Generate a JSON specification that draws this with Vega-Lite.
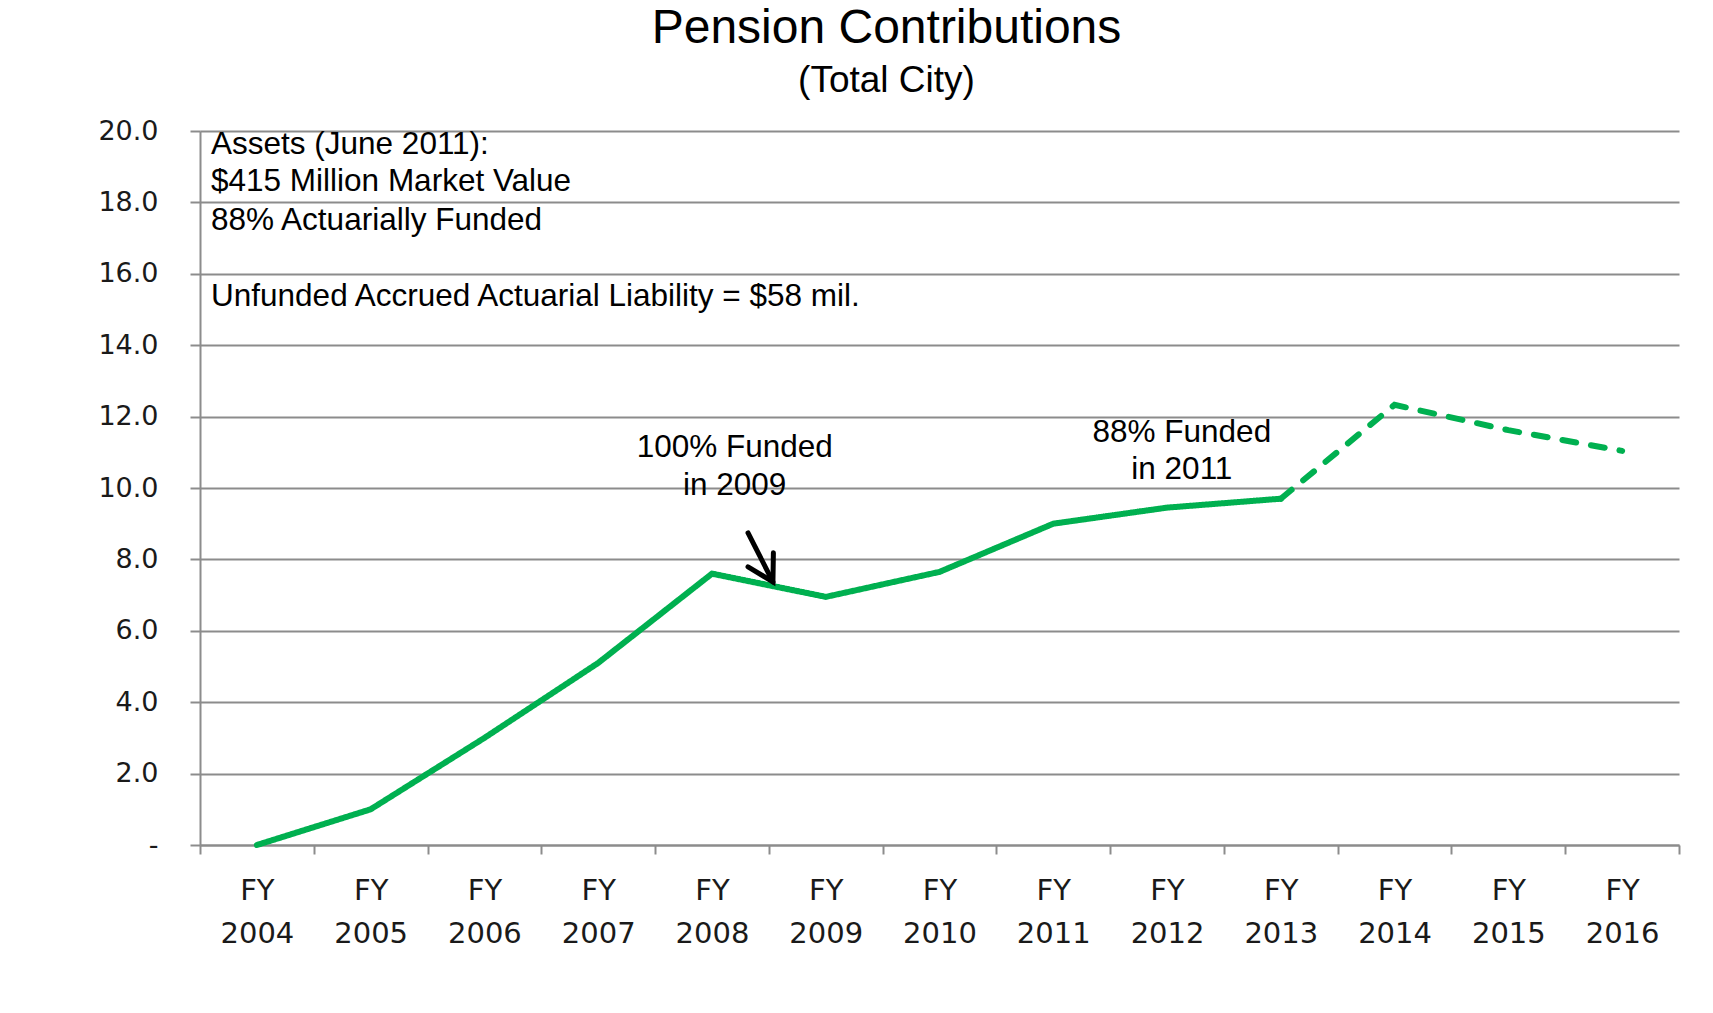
{
  "$schema": "https://vega.github.io/schema/vega-lite/v6.json",
  "width": 1479,
  "height": 714,
  "autosize": {"type": "none"},
  "padding": {"left": 200, "top": 131, "right": 34, "bottom": 168},
  "background": "white",
  "title": {
    "text": "Pension Contributions",
    "subtitle": "(Total City)",
    "anchor": "middle",
    "frame": "group",
    "dx": -53,
    "font": "Liberation Sans",
    "fontSize": 48,
    "fontWeight": "normal",
    "color": "black",
    "subtitleFont": "Liberation Sans",
    "subtitleFontSize": 37,
    "subtitleColor": "black",
    "subtitlePadding": 10,
    "offset": 18
  },
  "config": {"view": {"stroke": null}},
  "datasets": {
    "contrib": [
      {"year": "2004", "value": 0.0, "segment": "Actual"},
      {"year": "2005", "value": 1.0, "segment": "Actual"},
      {"year": "2006", "value": 3.0, "segment": "Actual"},
      {"year": "2007", "value": 5.1, "segment": "Actual"},
      {"year": "2008", "value": 7.6, "segment": "Actual"},
      {"year": "2009", "value": 6.95, "segment": "Actual"},
      {"year": "2010", "value": 7.65, "segment": "Actual"},
      {"year": "2011", "value": 9.0, "segment": "Actual"},
      {"year": "2012", "value": 9.45, "segment": "Actual"},
      {"year": "2013", "value": 9.7, "segment": "Actual"},
      {"year": "2013", "value": 9.7, "segment": "Projected"},
      {"year": "2014", "value": 12.33, "segment": "Projected"},
      {"year": "2015", "value": 11.62, "segment": "Projected"},
      {"year": "2016", "value": 11.04, "segment": "Projected"}
    ],
    "arrow": [
      {"x0": 4.817, "y0": 8.74, "x1": 5.036, "y1": 7.37}
    ],
    "notes": [
      {"label": "Assets (June 2011):", "tx": 0.097, "ty": 19.61},
      {"label": "$415 Million Market Value", "tx": 0.097, "ty": 18.57},
      {"label": "88% Actuarially Funded", "tx": 0.097, "ty": 17.48},
      {"label": "Unfunded Accrued Actuarial Liability = $58 mil.", "tx": 0.097, "ty": 15.35}
    ],
    "funded": [
      {"label": "100% Funded", "tx": 4.70, "ty": 11.12},
      {"label": "in 2009", "tx": 4.70, "ty": 10.06},
      {"label": "88% Funded", "tx": 8.63, "ty": 11.54},
      {"label": "in 2011", "tx": 8.63, "ty": 10.50}
    ]
  },
  "layer": [
    {
      "data": {"name": "contrib"},
      "mark": {"type": "line", "strokeWidth": 6, "strokeCap": "round", "strokeJoin": "miter", "color": "#00B050"},
      "encoding": {
        "x": {
          "field": "year",
          "type": "ordinal",
          "bandPosition": 0.5,
          "scale": {"type": "band", "paddingInner": 0, "paddingOuter": 0},
          "axis": {
            "title": null,
            "labelExpr": "datum.label == null || datum.label == '' ? '' : ['FY', datum.label]",
            "tickBand": "extent",
            "labelAngle": 0,
            "labelFont": "DejaVu Sans",
            "labelFontSize": 29,
            "labelColor": "#1a1a1a",
            "labelLineHeight": 43,
            "labelPadding": 22,
            "tickSize": 9,
            "tickColor": "#8c8c8c",
            "tickWidth": 2,
            "domainColor": "#8c8c8c",
            "domainWidth": 2,
            "grid": false
          }
        },
        "y": {
          "field": "value",
          "type": "quantitative",
          "scale": {"domain": [0, 20]},
          "axis": {
            "title": null,
            "values": [0, 2, 4, 6, 8, 10, 12, 14, 16, 18, 20],
            "labelExpr": "datum.value == 0 ? '-' : format(datum.value, '.1f')",
            "labelFont": "DejaVu Sans",
            "labelFontSize": 27,
            "labelColor": "#1a1a1a",
            "labelPadding": 32,
            "tickSize": 10,
            "tickColor": "#8c8c8c",
            "tickWidth": 2,
            "domainColor": "#8c8c8c",
            "domainWidth": 2,
            "grid": true,
            "gridColor": "#8c8c8c",
            "gridWidth": 2
          }
        },
        "strokeDash": {
          "field": "segment",
          "type": "nominal",
          "scale": {"domain": ["Actual", "Projected"], "range": [[1, 0], [14, 15]]},
          "legend": null
        }
      }
    },
    {
      "data": {"name": "arrow"},
      "mark": {"type": "rule", "strokeWidth": 5, "color": "black", "strokeCap": "round"},
      "encoding": {
        "x": {"field": "x0", "type": "quantitative", "scale": {"domain": [0, 13]}, "axis": null},
        "x2": {"field": "x1"},
        "y": {"field": "y0", "type": "quantitative"},
        "y2": {"field": "y1"}
      }
    },
    {
      "data": {"name": "arrow"},
      "mark": {"type": "point", "shape": "M -0.5 -0.87 L 0 0 L 0.5 -0.87", "size": 3364, "angle": 331, "filled": false, "stroke": "black", "strokeWidth": 5, "strokeCap": "round", "strokeJoin": "miter", "opacity": 1},
      "encoding": {
        "x": {"field": "x1", "type": "quantitative", "scale": {"domain": [0, 13]}, "axis": null},
        "y": {"field": "y1", "type": "quantitative"}
      }
    },
    {
      "data": {"name": "notes"},
      "mark": {"type": "text", "align": "left", "baseline": "middle", "font": "Liberation Sans", "fontSize": 31.5, "color": "black"},
      "encoding": {
        "x": {"field": "tx", "type": "quantitative", "scale": {"domain": [0, 13]}, "axis": null},
        "y": {"field": "ty", "type": "quantitative"},
        "text": {"field": "label"}
      }
    },
    {
      "data": {"name": "funded"},
      "mark": {"type": "text", "align": "center", "baseline": "middle", "font": "Liberation Sans", "fontSize": 31.5, "color": "black"},
      "encoding": {
        "x": {"field": "tx", "type": "quantitative", "scale": {"domain": [0, 13]}, "axis": null},
        "y": {"field": "ty", "type": "quantitative"},
        "text": {"field": "label"}
      }
    }
  ],
  "resolve": {"scale": {"x": "independent"}, "axis": {"x": "independent"}}
}
